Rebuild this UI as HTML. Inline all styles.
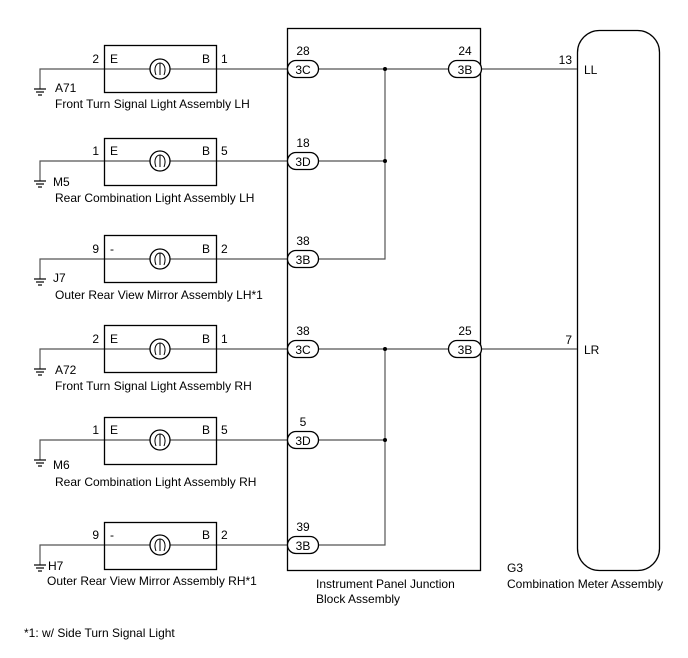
<!DOCTYPE html>
<html><head><meta charset="utf-8"><style>
html,body{margin:0;padding:0;background:#fff;}
svg{display:block;font-family:"Liberation Sans",sans-serif;font-size:12px;}
text{fill:#000;}
</style></head><body>
<svg width="688" height="658" viewBox="0 0 688 658" xmlns="http://www.w3.org/2000/svg">
<g stroke="#000" fill="none" stroke-width="1.3">
<rect x="287.5" y="28.5" width="193" height="542"/>
<rect x="577.5" y="30.5" width="82" height="540" rx="22" ry="22"/>
</g>
<g stroke="#555" stroke-width="1.2" fill="none">
<line x1="481" y1="69" x2="577" y2="69"/>
<line x1="481" y1="349" x2="577" y2="349"/>
<line x1="318" y1="69" x2="448" y2="69"/>
<line x1="318" y1="349" x2="448" y2="349"/>
<polyline points="318,161 385,161"/>
<polyline points="318,259 385,259 385,69"/>
<polyline points="318,440 385,440"/>
<polyline points="318,545 385,545 385,349"/>
</g>
<g fill="#000">
<circle cx="385" cy="69" r="2"/><circle cx="385" cy="161" r="2"/>
<circle cx="385" cy="349" r="2"/><circle cx="385" cy="440" r="2"/>
</g>
<g>
<rect x="448.5" y="60.5" width="33" height="17" rx="8.5" fill="#fff" stroke="#000" stroke-width="1.3"/>
<text x="465" y="74" text-anchor="middle">3B</text><text x="465" y="55" text-anchor="middle">24</text>
<rect x="448.5" y="340.5" width="33" height="17" rx="8.5" fill="#fff" stroke="#000" stroke-width="1.3"/>
<text x="465" y="354" text-anchor="middle">3B</text><text x="465" y="335" text-anchor="middle">25</text>
<text x="572" y="64" text-anchor="end">13</text><text x="584" y="74">LL</text>
<text x="572" y="344" text-anchor="end">7</text><text x="584" y="354">LR</text>
</g>
<!-- rows -->
<g id="rows"></g>
<text x="316" y="588">Instrument Panel Junction</text>
<text x="316" y="603">Block Assembly</text>
<text x="507" y="572">G3</text>
<text x="507" y="588">Combination Meter Assembly</text>
<text x="24" y="637">*1: w/ Side Turn  Signal Light</text>
</svg>
<script>
var rows=[
[69,45,"2","E","1","28","3C","A71","Front Turn  Signal Light Assembly LH",55,92,108],
[161,138,"1","E","5","18","3D","M5","Rear Combination Light Assembly LH",53,186,202],
[259,235,"9","-","2","38","3B","J7","Outer Rear View Mirror Assembly LH*1",53,282,299],
[349,325,"2","E","1","38","3C","A72","Front Turn  Signal Light Assembly RH",55,374,390],
[440,417,"1","E","5","5","3D","M6","Rear Combination Light Assembly RH",53,469,486],
[545,522,"9","-","2","39","3B","H7","Outer Rear View Mirror Assembly RH*1",48,570,585]];
var s="";
rows.forEach(function(r){var w=r[0],b=r[1];
s+='<g stroke="#555" stroke-width="1.2" fill="none"><polyline points="287,'+w+' 40,'+w+' 40,'+(w+20)+'"/></g>';
s+='<g stroke="#000" stroke-width="1.2"><line x1="34" y1="'+(w+20)+'" x2="46" y2="'+(w+20)+'"/><line x1="36" y1="'+(w+23)+'" x2="44" y2="'+(w+23)+'"/><line x1="38" y1="'+(w+26)+'" x2="42" y2="'+(w+26)+'"/></g>';
s+='<rect x="104.5" y="'+(b+0.5)+'" width="112" height="47" fill="none" stroke="#000" stroke-width="1.3"/>';
s+='<circle cx="160" cy="'+w+'" r="10" fill="#fff" stroke="#000" stroke-width="1.3"/>';
s+='<path d="M156,'+(w+6)+' C153,'+(w-2)+' 157,'+(w-6)+' 160,'+(w-6)+' C163,'+(w-6)+' 167,'+(w-2)+' 164,'+(w+6)+' M160,'+(w-6)+' L160,'+(w+6)+'" fill="none" stroke="#000" stroke-width="1"/>';
s+='<text x="99" y="'+(w-6)+'" text-anchor="end">'+r[2]+'</text><text x="110" y="'+(w-6)+'">'+r[3]+'</text><text x="202" y="'+(w-6)+'">B</text><text x="221" y="'+(w-6)+'">'+r[4]+'</text>';
s+='<rect x="287.5" y="'+(w-8.5)+'" width="31" height="17" rx="8.5" fill="#fff" stroke="#000" stroke-width="1.3"/>';
s+='<text x="303" y="'+(w+5)+'" text-anchor="middle">'+r[6]+'</text><text x="303" y="'+(w-14)+'" text-anchor="middle">'+r[5]+'</text>';
s+='<text x="'+r[9]+'" y="'+r[10]+'">'+r[7]+'</text><text x="'+(r[9]==48?47:55)+'" y="'+r[11]+'">'+r[8]+'</text>';
});
document.getElementById("rows").innerHTML=s;
</script>
</body></html>
